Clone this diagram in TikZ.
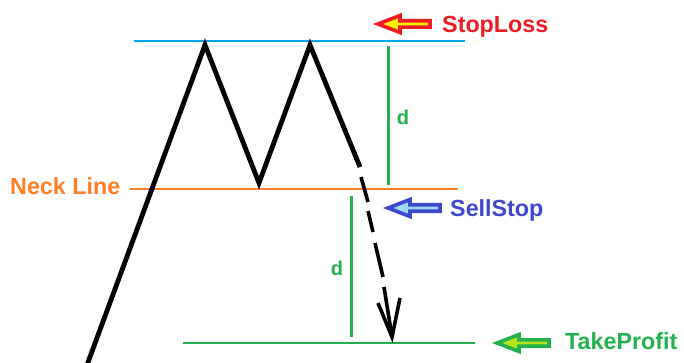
\documentclass[tikz,border=0pt]{standalone}
\usepackage{fontspec}
\setmainfont{Liberation Sans}
\definecolor{slred}{RGB}{237,28,36}
\definecolor{slyel}{RGB}{255,242,0}
\definecolor{ssblue}{RGB}{63,72,204}
\definecolor{sscyan}{RGB}{153,217,234}
\definecolor{tpgreen}{RGB}{34,177,76}
\definecolor{tplime}{RGB}{181,230,29}
\definecolor{neckor}{RGB}{255,127,39}
\definecolor{topblue}{RGB}{0,168,236}
\tikzset{
  lbl/.style={anchor=base west, inner sep=0pt, font=\fontsize{23.3}{23.3}\selectfont\bfseries},
  dlbl/.style={inner sep=0pt, font=\fontsize{20}{20}\selectfont\bfseries, text=tpgreen},
  price/.style={line width=4.8pt, line join=miter, line cap=butt},
  dashseg/.style={line width=3.6pt},
  level/.style={line width=1.4pt},
  dline/.style={line width=3pt, draw=tpgreen},
  blockarrow/.style={line width=3.6pt, line join=miter}
}
\newcommand{\blockarr}[4]{% x tip, y, draw, fill
  \draw[blockarrow, draw=#3, fill=#4] (#1+5,#2) -- (#1+27,#2-8.5) -- (#1+27,#2-3.2) -- (#1+57,#2-3.2)
     -- (#1+57,#2+3.2) -- (#1+27,#2+3.2) -- (#1+27,#2+8.5) -- cycle;}
\begin{document}
\begin{tikzpicture}[x=1pt,y=-1pt]
\useasboundingbox (0,0) rectangle (684,363);
\fill[white] (0,0) rectangle (684,363);
% level lines
\draw[level, draw=topblue] (134,41) -- (465,41);
\draw[level, draw=neckor] (130,189) -- (458,189);
\draw[level, draw=tpgreen] (183,343) -- (475,343);
% price path
\draw[price] (87,365) -- (205,45) -- (259,183) -- (310,45) -- (360,167);
% dashed continuation
\draw[dashseg] (361,177) -- (368,202);
\draw[dashseg] (368,211) -- (373,232);
\draw[dashseg] (375,243) -- (383,277);
\draw[dashseg] (384,287) -- (392,337);
\draw[dashseg] (378,303) -- (392,337) -- (400,298);
% distance lines
\draw[dline] (388,46) -- (388,185);
\draw[dline] (351,196) -- (351,337);
\node[dlbl] (d1) at (403,117) {d};
\node[dlbl] (d2) at (337,268) {d};
% block arrows
\blockarr{373}{24}{slred}{slyel}
\blockarr{383}{208}{ssblue}{sscyan}
\blockarr{492}{343}{tpgreen}{tplime}
% labels
\node[lbl, text=slred] (sl) at (442,33) {StopLoss};
\node[lbl, text=ssblue] (ss) at (450,216) {SellStop};
\node[lbl, text=tpgreen] (tp) at (565,349) {TakeProfit};
\node[lbl, text=neckor] (nl) at (10,195) {Neck Line};
\end{tikzpicture}
\end{document}
